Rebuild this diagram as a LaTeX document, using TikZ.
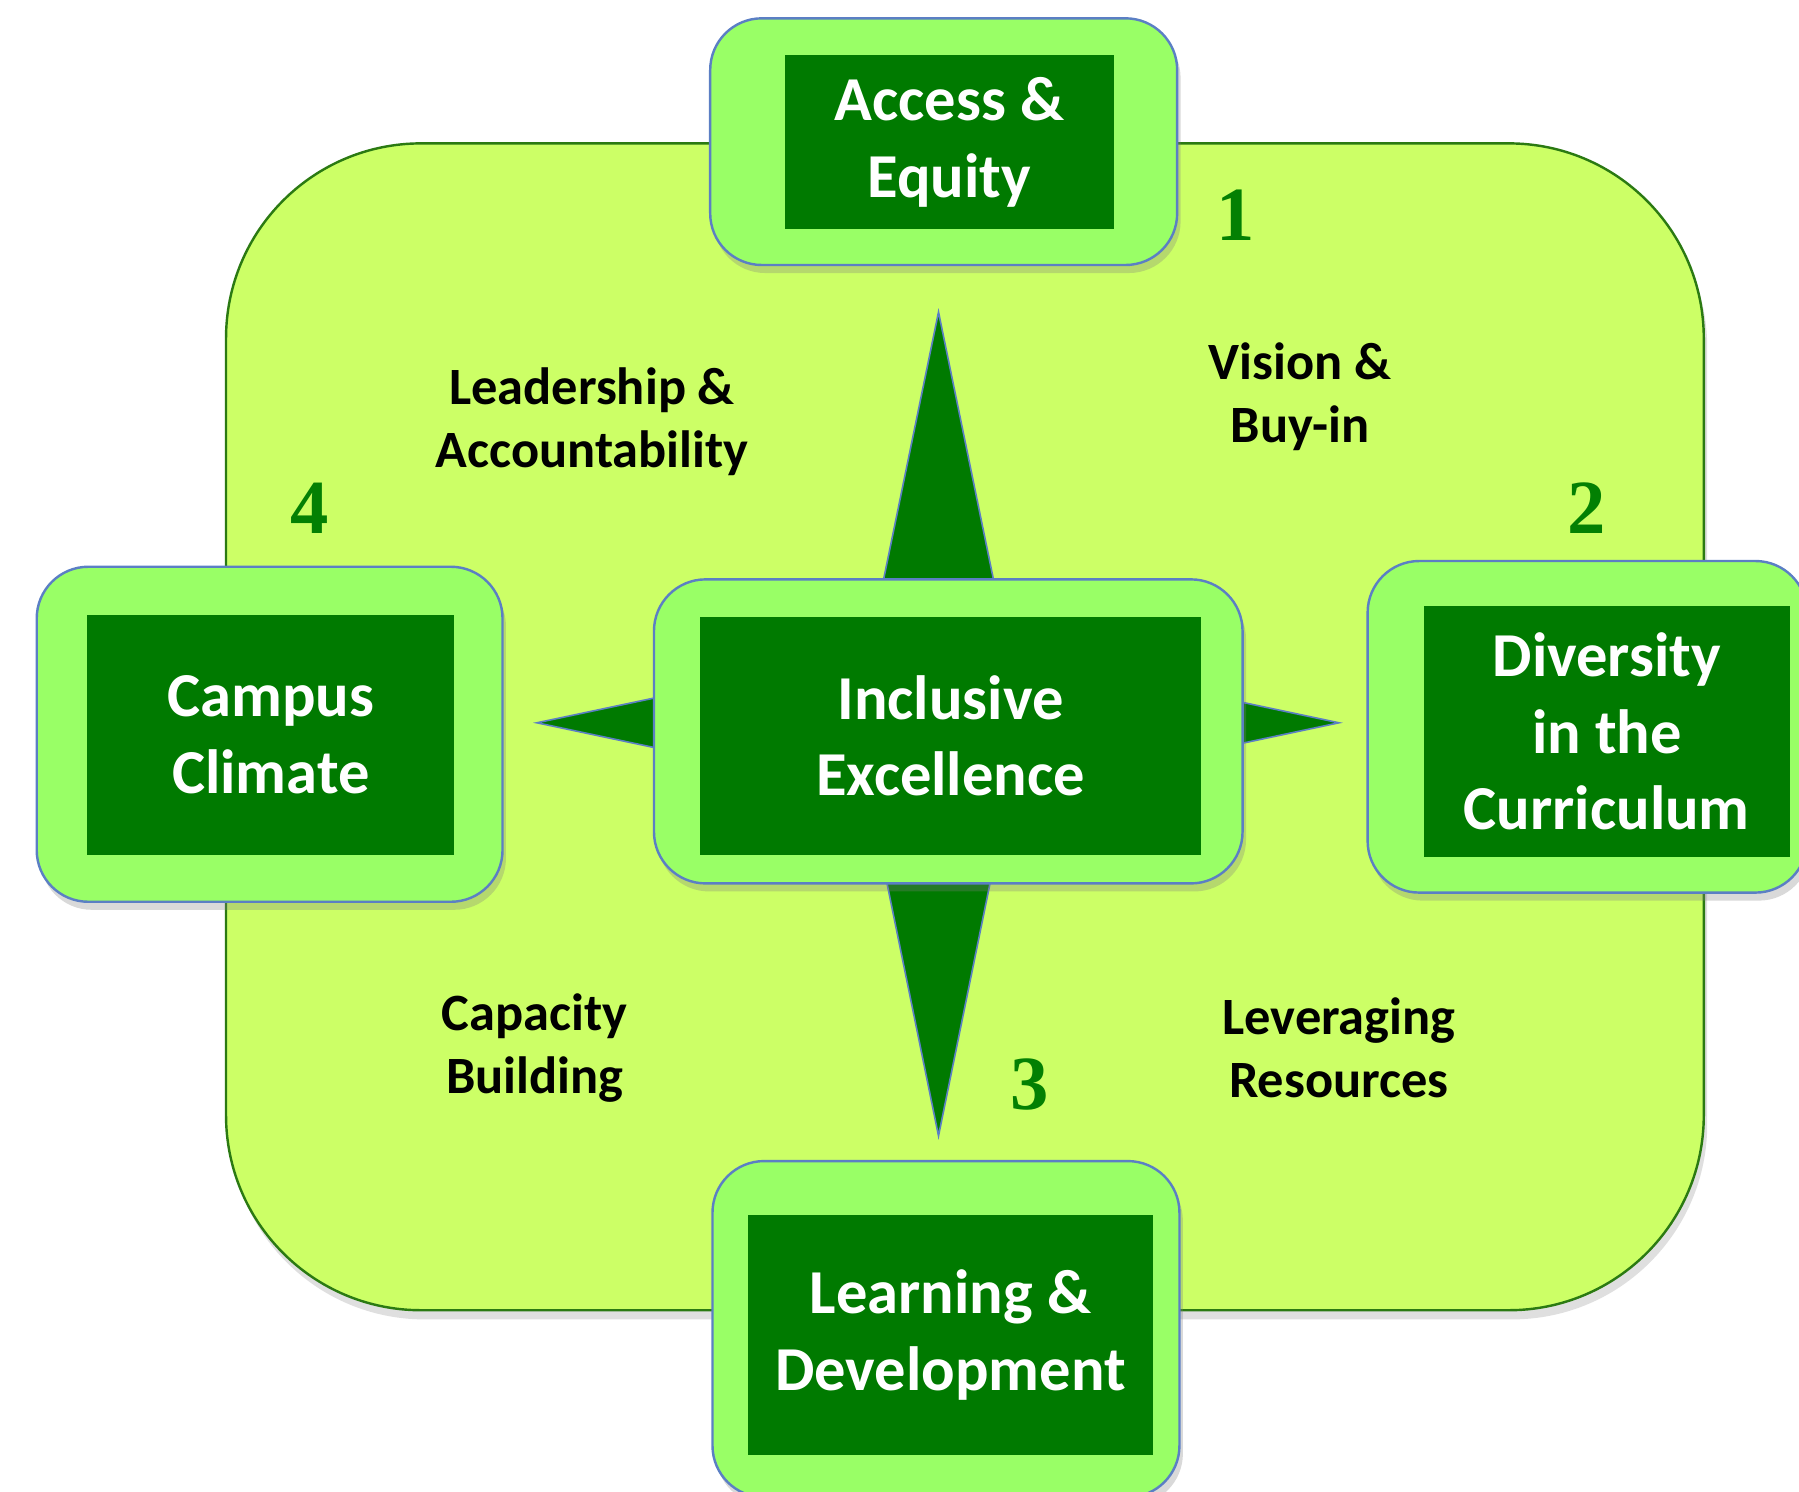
\documentclass[tikz,border=0pt]{standalone}
\usepackage{fontspec}
\setmainfont{Carlito}
\newfontfamily\numfont{Liberation Serif}
\usetikzlibrary{shadows}
\definecolor{lime}{HTML}{CCFF66}
\definecolor{boxgreen}{HTML}{99FF66}
\definecolor{darkgreen}{HTML}{007A00}
\definecolor{edgeblue}{HTML}{5B7FC4}
\definecolor{rimgreen}{HTML}{2B7A12}
\definecolor{numgreen}{HTML}{038003}

\begin{document}
\begin{tikzpicture}[line width = 0.6pt,
    outer/.style = {rounded corners = 0.45cm, draw = edgeblue, fill = boxgreen, inner sep = 0pt,
                    drop shadow = {opacity = 0.3, shadow xshift = 0.03cm, shadow yshift = -0.07cm}},
    inner/.style = {fill = darkgreen, text = white, align = center, inner sep = 0pt,
                    font = \fontsize{15.5}{19}\selectfont\bfseries},
    tag/.style = {align = center, font = \fontsize{13}{15.6}\selectfont\bfseries},
    num/.style = {text = numgreen, font = \fontsize{19}{19}\selectfont\numfont\bfseries}]
  \clip (0, 0) rectangle (15.68, 13);
  \node [draw = rimgreen, fill = lime, rounded corners = 1.7cm, minimum width = 12.88cm, minimum height = 10.17cm,
         drop shadow = {opacity = 0.25, shadow xshift = 0.03cm, shadow yshift = -0.08cm}] (back) at (8.41, 6.665){};
  % star
  \draw [draw = edgeblue, fill = darkgreen, line width = 0.4pt] (8.18, 10.28) -- (8.79, 7.31) -- (11.67, 6.70) -- (8.79, 6.09)
        -- (8.18, 3.10) -- (7.57, 6.09) -- (4.68, 6.70) -- (7.57, 7.31) -- cycle;
  % boxes
  \node [outer, minimum width = 4.07cm, minimum height = 2.15cm] (acc_box) at (8.225, 11.765){};
  \node [outer, minimum width = 5.13cm, minimum height = 2.65cm] (inc_box) at (8.265, 6.625){};
  \node [outer, minimum width = 3.83cm, minimum height = 2.89cm] (div_box) at (13.835, 6.665){};
  \node [outer, minimum width = 4.06cm, minimum height = 2.92cm] (cam_box) at (2.35, 6.6){};
  \node [outer, minimum width = 4.07cm, minimum height = 2.93cm] (lrn_box) at (8.245, 1.415){};
  \node [inner, minimum width = 2.87cm, minimum height = 1.52cm] (acc) at (8.275, 11.76){Access \&\\Equity};
  \node [inner, minimum width = 4.37cm, minimum height = 2.07cm] (inc) at (8.285, 6.585){Inclusive\\Excellence};
  \node [inner, minimum width = 3.19cm, minimum height = 2.19cm] (div) at (14.005, 6.625){Diversity\\in the\\Curriculum};
  \node [inner, minimum width = 3.20cm, minimum height = 2.09cm] (cam) at (2.36, 6.595){Campus\\Climate};
  \node [inner, minimum width = 3.53cm, minimum height = 2.09cm] (lrn) at (8.285, 1.365){Learning \&\\Development};
  % numbers
  \node [num] (n1) at (10.77, 11.12){1};
  \node [num] (n2) at (13.83, 8.57){2};
  \node [num] (n3) at (8.97, 3.55){3};
  \node [num] (n4) at (2.70, 8.57){4};
  % labels
  \node [tag] (lead) at (5.16, 9.325){Leadership \&\\Accountability};
  \node [tag] (vision) at (11.33, 9.545){Vision \&\\Buy-in};
  \node [tag] (capacity) at (4.66, 3.865){Capacity\\Building};
  \node [tag] (leverage) at (11.67, 3.865){Leveraging\\Resources};
\end{tikzpicture}
\end{document}
